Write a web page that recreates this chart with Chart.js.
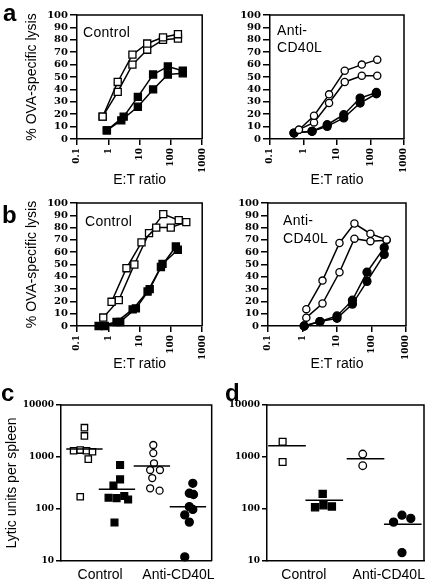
<!DOCTYPE html>
<html><head><meta charset="utf-8">
<script src="https://cdn.jsdelivr.net/npm/chart.js@4.4.1/dist/chart.umd.min.js"></script>
<style>
html,body{margin:0;padding:0;background:#fff;}
body{width:433px;height:584px;position:relative;overflow:hidden;font-family:"Liberation Sans",Arial,sans-serif;color:#000;}
canvas{position:absolute;}
.lbl{position:absolute;font-size:14px;line-height:17px;white-space:nowrap;letter-spacing:0.3px;}
.let{position:absolute;font-weight:bold;font-size:24px;line-height:24px;}
</style></head><body>
<canvas id="aL" width="216" height="190" style="left:0;top:0"></canvas>
<canvas id="aR" width="217" height="190" style="left:216px;top:0"></canvas>
<canvas id="bL" width="216" height="188" style="left:0;top:190px"></canvas>
<canvas id="bR" width="217" height="188" style="left:216px;top:190px"></canvas>
<canvas id="cC" width="222" height="204" style="left:0;top:380px"></canvas>
<canvas id="dC" width="211" height="204" style="left:222px;top:380px"></canvas>
<div class="let" style="left:3px;top:1px">a</div>
<div class="let" style="left:2px;top:203px">b</div>
<div class="let" style="left:1px;top:381px">c</div>
<div class="let" style="left:225px;top:381px">d</div>
<div class="lbl" style="left:83px;top:24px">Control</div>
<div class="lbl" style="left:277px;top:22px">Anti-<br>CD40L</div>
<div class="lbl" style="left:85px;top:213px">Control</div>
<div class="lbl" style="left:283px;top:211px;line-height:18px">Anti-<br>CD40L</div>
<script>
// ---------- tick labels ----------
const ticksET = [0.1, 1, 10, 100, 1000];
const ticksLysis = [0, 10, 20, 30, 40, 50, 60, 70, 80, 90, 100];
const ticksLU = [10, 100, 1000, 10000];
const groupLabels = ['Control', 'Anti-CD40L'];

// ---------- panel a, Control ----------
const aCtrlOpenX = [0.66, 2.0, 5.9, 17.5, 56, 168];
const aCtrlOpen1 = [18, 46, 68, 77, 82, 84.5];
const aCtrlOpen2 = [18, 38, 60, 72, 80, 81];
const aCtrlFillX1 = [0.9, 2.6, 8.8, 27, 80, 240];
const aCtrlFillX2 = [0.9, 3.1, 8.8, 27, 80, 240];
const aCtrlFill1 = [7, 15, 26, 40, 52, 53];
const aCtrlFill2 = [7, 18, 34, 52, 58.5, 55];
// ---------- panel a, Anti-CD40L ----------
const aAntiOpenX = [0.73, 2.06, 5.8, 17, 55, 159];
const aAntiOpen1 = [7.5, 18.8, 36, 55, 60, 64];
const aAntiOpen2 = [7.5, 13.4, 29, 46, 51, 51];
const aAntiFillX = [0.52, 1.8, 5.1, 15.9, 49, 150];
const aAntiFill1 = [4.8, 6.2, 11.5, 19.6, 33, 37.5];
const aAntiFill2 = [4.8, 6.2, 10.2, 17, 29, 36.5];
// ---------- panel b, Control ----------
const bCtrlOpenX1 = [1.27, 3.8, 11.5, 34, 99, 310];
const bCtrlOpen1 = [19.7, 47, 68, 80, 80, 84.5];
const bCtrlOpenX2 = [0.69, 2.16, 6.8, 20, 57, 178];
const bCtrlOpen2 = [6.9, 21, 50, 75.5, 91, 86];
const bCtrlFillX1 = [0.49, 1.83, 6, 18, 48, 144];
const bCtrlFill1 = [0, 3.3, 13.5, 28, 48, 64.6];
const bCtrlFillX2 = [0.77, 2.4, 7.6, 21, 54, 166];
const bCtrlFill2 = [0, 3.3, 14.3, 30, 50.5, 62];
// ---------- panel b, Anti-CD40L ----------
const bAntiOpenX = [1.29, 3.8, 11.8, 32, 93, 274];
const bAntiOpen1 = [13.7, 36.9, 67.5, 83.3, 75, 70.2];
const bAntiOpen2 = [6.8, 18.3, 43.7, 71, 69, 69.7];
const bAntiFillX = [1.12, 3.2, 10, 28, 74, 234];
const bAntiFill1 = [0, 3.6, 8.2, 21, 43.7, 63.7];
const bAntiFill2 = [0, 3.6, 6.3, 17.8, 36.3, 58.2];
// ---------- panel c (lytic units per spleen) ----------
const cOpenSqX = [1.0, 1.0, 0.69, 0.88, 1.06, 1.23, 1.11, 0.88];
const cOpenSqY = [3660, 2540, 1320, 1360, 1320, 1260, 910, 172];
const cFillSqX = [2.02, 2.02, 1.83, 1.69, 1.92, 2.14, 2.25, 1.86];
const cFillSqY = [702, 372, 281, 165, 162, 178, 152, 55];
const cOpenCiX = [2.97, 2.97, 2.99, 2.88, 3.16, 2.94, 2.88, 3.15];
const cOpenCiY = [1700, 1190, 757, 562, 562, 394, 250, 225];
const cFillCiX = [4.1, 4.0, 4.12, 4.0, 3.87, 4.1, 4.0, 3.87];
const cFillCiY = [312, 201, 190, 111, 77, 98, 56, 12];
const cMeanX = [1.0, 1.93, 2.93, 3.96];
const cMeanY = [1430, 239, 670, 111];
// ---------- panel d ----------
const dOpenSqX = [1, 1];
const dOpenSqY = [1970, 802];
const dFillSqX = [2.0, 1.81, 2.02, 2.23];
const dFillSqY = [195, 108, 118, 112];
const dOpenCiX = [3, 3];
const dOpenCiY = [1140, 681];
const dFillCiX = [3.77, 3.98, 4.2, 3.98];
const dFillCiY = [56, 76, 66, 14.5];
const dMeanX = [1.11, 2.04, 3.07, 4.0];
const dMeanY = [1650, 147, 930, 51];

// ---------- helpers ----------
const K = '#000';
const tickFont = {family: 'DejaVu Serif', weight: 'bold', size: 10};
const tickFontSm = {family: 'DejaVu Serif', weight: 'bold', size: 9};
const titleFont = {family: 'Liberation Sans', size: 14};

const boxPlugin = {
  id: 'box',
  afterDraw(chart) {
    const {ctx, chartArea: a} = chart;
    ctx.save();
    ctx.strokeStyle = K; ctx.lineWidth = 1.5;
    ctx.beginPath();
    ctx.moveTo(a.left, a.top); ctx.lineTo(a.right, a.top); ctx.lineTo(a.right, a.bottom);
    ctx.stroke();
    ctx.restore();
  }
};

function pts(xs, ys) { return xs.map((x, i) => ({x: x, y: ys[i]})); }

function series(xs, ys, filled, shape, r) {
  return {
    data: pts(xs, ys), showLine: true, borderColor: K, borderWidth: 1.5,
    pointStyle: shape, pointRadius: r, pointHoverRadius: r,
    pointBackgroundColor: filled ? K : '#fff', pointBorderColor: K, pointBorderWidth: 1.3,
    clip: false
  };
}
function dots(xs, ys, filled, shape, r) {
  return {
    data: pts(xs, ys), showLine: false,
    pointStyle: shape, pointRadius: r, pointHoverRadius: r,
    backgroundColor: filled ? K : '#fff', borderColor: K, borderWidth: 1.3,
    pointBackgroundColor: filled ? K : '#fff', pointBorderColor: K, pointBorderWidth: 1.3,
    clip: false
  };
}
function meanLines(cx, my, half) {
  return cx.map((c, i) => ({
    data: [{x: c - half, y: my[i]}, {x: c + half, y: my[i]}],
    showLine: true, borderColor: K, borderWidth: 1.5, pointRadius: 0, clip: false
  }));
}

function lysisChart(id, datasets, L) {
  return new Chart(document.getElementById(id), {
    type: 'scatter',
    data: {datasets: datasets},
    plugins: [boxPlugin],
    options: {
      responsive: false, animation: false, devicePixelRatio: 1,
      layout: {padding: {left: 0, top: L.top, right: L.right, bottom: 0}},
      plugins: {legend: {display: false}, tooltip: {enabled: false}},
      scales: {
        x: {
          type: 'logarithmic', min: 0.1, max: 1000,
          afterBuildTicks: s => { s.ticks = ticksET.map(v => ({value: v})); },
          afterFit: s => { s.height = L.xh; },
          ticks: {font: tickFontSm, color: K, minRotation: 90, maxRotation: 90, padding: 3,
                  autoSkip: false, callback: v => String(v)},
          grid: {drawOnChartArea: false, drawTicks: true, tickLength: 6, tickColor: K, lineWidth: 1.5},
          border: {display: true, color: K, width: 1.5},
          title: {display: true, text: 'E:T ratio', font: titleFont, color: K,
                  padding: {top: 0, bottom: L.xtp}}
        },
        y: {
          type: 'linear', min: 0, max: 100,
          afterBuildTicks: s => { s.ticks = ticksLysis.map(v => ({value: v})); },
          afterFit: s => { s.width = L.yw; },
          ticks: {font: tickFont, color: K, padding: 2, autoSkip: false, callback: v => String(v)},
          grid: {drawOnChartArea: false, drawTicks: true, tickLength: 7, tickColor: K, lineWidth: 1.5},
          border: {display: true, color: K, width: 1.5},
          title: {display: L.ytitle, text: '% OVA-specific lysis', font: titleFont, color: K,
                  padding: {top: 23.6, bottom: 0}}
        }
      }
    }
  });
}

function luChart(id, datasets, L) {
  return new Chart(document.getElementById(id), {
    type: 'scatter',
    data: {datasets: datasets},
    plugins: [boxPlugin],
    options: {
      responsive: false, animation: false, devicePixelRatio: 1,
      layout: {padding: {left: 0, top: 25, right: L.right, bottom: 0}},
      plugins: {legend: {display: false}, tooltip: {enabled: false}},
      scales: {
        x: {
          type: 'linear', min: L.xmin, max: L.xmax,
          afterBuildTicks: s => { s.ticks = L.labPos.map(v => ({value: v})); },
          afterFit: s => { s.height = 23; },
          ticks: {font: {family: 'Liberation Sans', size: 14}, color: K, maxRotation: 0, minRotation: 0,
                  padding: 6, autoSkip: false, callback: (v, i) => groupLabels[i]},
          grid: {drawOnChartArea: false, drawTicks: false},
          border: {display: true, color: K, width: 1.5}
        },
        y: {
          type: 'logarithmic', min: 10, max: 10000,
          afterBuildTicks: s => { s.ticks = ticksLU.map(v => ({value: v})); },
          afterFit: s => { s.width = L.yw; },
          ticks: {font: tickFontSm, color: K, padding: 2, autoSkip: false, callback: v => String(v)},
          grid: {drawOnChartArea: false, drawTicks: true, tickLength: 5, tickColor: K, lineWidth: 1.5},
          border: {display: true, color: K, width: 1.5},
          title: {display: L.ytitle, text: 'Lytic units per spleen', font: titleFont, color: K,
                  padding: {top: 3.6, bottom: 0}}
        }
      }
    }
  });
}

// ---------- panel a ----------
lysisChart('aL', [
  series(aCtrlOpenX, aCtrlOpen1, false, 'rect', 5),
  series(aCtrlOpenX, aCtrlOpen2, false, 'rect', 5),
  series(aCtrlFillX1, aCtrlFill1, true, 'rect', 5),
  series(aCtrlFillX2, aCtrlFill2, true, 'rect', 5)
], {top: 15, right: 4, xh: 51, yw: 77, xtp: 1.6, ytitle: true});

lysisChart('aR', [
  series(aAntiOpenX, aAntiOpen1, false, 'circle', 3.6),
  series(aAntiOpenX, aAntiOpen2, false, 'circle', 3.6),
  series(aAntiFillX, aAntiFill1, true, 'circle', 4),
  series(aAntiFillX, aAntiFill2, true, 'circle', 4)
], {top: 15, right: 29, xh: 51, yw: 54, xtp: 1.6, ytitle: false});

// ---------- panel b ----------
lysisChart('bL', [
  series(bCtrlOpenX1, bCtrlOpen1, false, 'rect', 5),
  series(bCtrlOpenX2, bCtrlOpen2, false, 'rect', 5),
  series(bCtrlFillX1, bCtrlFill1, true, 'rect', 5),
  series(bCtrlFillX2, bCtrlFill2, true, 'rect', 5)
], {top: 13, right: 5, xh: 52, yw: 77, xtp: 5.6, ytitle: true});

lysisChart('bR', [
  series(bAntiOpenX, bAntiOpen1, false, 'circle', 3.6),
  series(bAntiOpenX, bAntiOpen2, false, 'circle', 3.6),
  series(bAntiFillX, bAntiFill1, true, 'circle', 4),
  series(bAntiFillX, bAntiFill2, true, 'circle', 4)
], {top: 13, right: 27, xh: 52, yw: 52, xtp: 5.6, ytitle: false});

// ---------- panel c ----------
luChart('cC', [
  ...meanLines(cMeanX, cMeanY, 0.52),
  dots(cOpenSqX, cOpenSqY, false, 'rect', 4.5),
  dots(cFillSqX, cFillSqY, true, 'rect', 4.8),
  dots(cOpenCiX, cOpenCiY, false, 'circle', 3.5),
  dots(cFillCiX, cFillCiY, true, 'circle', 4)
], {right: 6, yw: 61, xmin: 0.33, xmax: 4.64, labPos: [1.45, 3.69], ytitle: true});

// ---------- panel d ----------
luChart('dC', [
  ...meanLines(dMeanX, dMeanY, 0.47),
  dots(dOpenSqX, dOpenSqY, false, 'rect', 4.8),
  dots(dFillSqX, dFillSqY, true, 'rect', 5),
  dots(dOpenCiX, dOpenCiY, false, 'circle', 3.8),
  dots(dFillCiX, dFillCiY, true, 'circle', 4)
], {right: 9, yw: 45, xmin: 0.61, xmax: 4.53, labPos: [1.53, 3.65], ytitle: false});
</script>
</body></html>
